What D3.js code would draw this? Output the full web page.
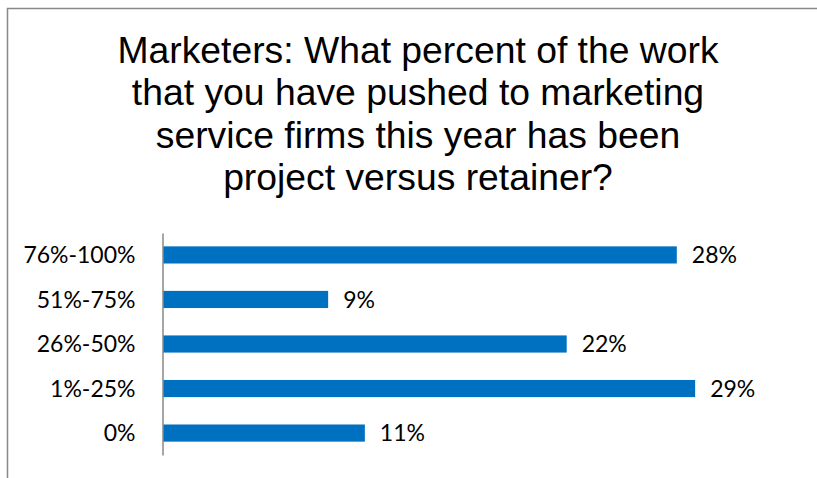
<!DOCTYPE html>
<html>
<head>
<meta charset="utf-8">
<script src="https://cdn.jsdelivr.net/npm/d3@7"></script>
<style>
  html, body { margin: 0; padding: 0; background: #fff; overflow: hidden; }
  svg { display: block; }
</style>
</head>
<body>
<svg id="chart" width="817" height="478"></svg>
<script>
// Survey answers, top row first
const categories = ["76%-100%", "51%-75%", "26%-50%", "1%-25%", "0%"];
const values = [28, 9, 22, 29, 11];
const valueLabels = ["28%", "9%", "22%", "29%", "11%"];
const titleLines = [
  "Marketers: What percent of the work",
  "that you have pushed to marketing",
  "service firms this year has been",
  "project versus retainer?"
];

const svg = d3.select("#chart");
const W = 817, H = 478;

// chart frame (left and top edges fall inside the view)
svg.append("path")
  .attr("d", `M7.5,${H}V8.5H${W}`)
  .attr("fill", "none")
  .attr("stroke", "#888888")
  .attr("stroke-width", 1.5);

// title
const title = svg.append("text")
  .attr("text-anchor", "middle")
  .attr("font-family", "'Liberation Sans', Arial, sans-serif")
  .attr("font-size", 37.3)
  .attr("fill", "#000");
titleLines.forEach((t, i) => {
  title.append("tspan")
    .attr("x", 418)
    .attr("y", 62.5 + i * 42.6)
    .text(t);
});

const x = d3.scaleLinear().domain([0, 30]).range([163, 713.5]);
const y = d3.scaleBand().domain(categories).range([233, 455]).paddingInner(0.615).paddingOuter(0.3);

// bars
svg.append("g").selectAll("rect")
  .data(values)
  .join("rect")
  .attr("x", x(0))
  .attr("y", (d, i) => y(categories[i]))
  .attr("width", d => x(d) - x(0))
  .attr("height", y.bandwidth())
  .attr("fill", "#0070C0");

// category axis
const axis = svg.append("g")
  .attr("transform", `translate(${x(0) - 0.5},0)`)
  .call(d3.axisLeft(y).tickSize(0).tickPadding(27));
axis.select(".domain").attr("stroke", "#888888").attr("stroke-width", 1.5);
axis.selectAll("text")
  .attr("font-family", "Lato, 'Open Sans', sans-serif")
  .attr("font-size", 23)
  .attr("fill", "#000")
  .attr("dy", "0.36em");

// value labels
svg.append("g").selectAll("text")
  .data(values)
  .join("text")
  .attr("x", d => x(d) + 15)
  .attr("y", (d, i) => y(categories[i]) + y.bandwidth() / 2)
  .attr("dy", "0.36em")
  .attr("font-family", "Lato, 'Open Sans', sans-serif")
  .attr("font-size", 23)
  .attr("fill", "#000")
  .text((d, i) => valueLabels[i]);
</script>
</body>
</html>
